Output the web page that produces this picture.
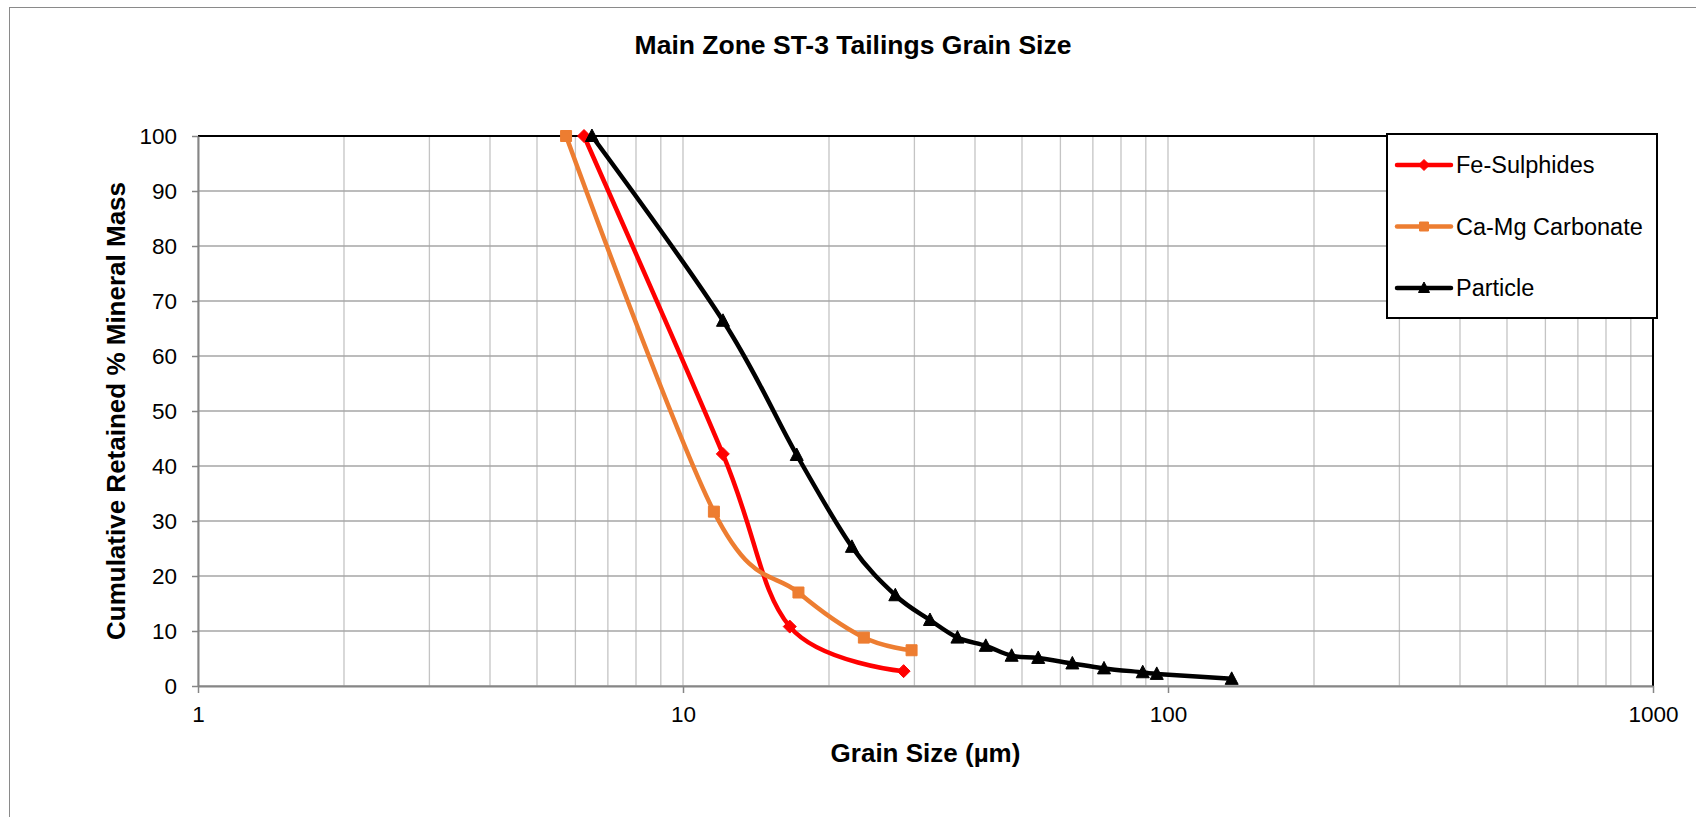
<!DOCTYPE html>
<html>
<head>
<meta charset="utf-8">
<script src="https://cdn.jsdelivr.net/npm/d3@7"></script>
<style>
  body { margin: 0; background: #fff; }
  text { font-family: "Liberation Sans", Arial, sans-serif; }
</style>
</head>
<body>
<div id="chart"></div>
<script>
const width = 1696;
const height = 817;
const margin = { top: 136, right: 43, bottom: 131, left: 198 };

// values
const seriesNames = ["Fe-Sulphides", "Ca-Mg Carbonate", "Particle"];
const seriesColors = ["#ff0000", "#ed7d31", "#000000"];

const feSize = [6.25, 12.08, 16.6, 28.5];
const feRetained = [100, 42.2, 10.8, 2.7];

const carbSize = [5.74, 11.58, 17.3, 23.6, 29.6];
const carbRetained = [100, 31.7, 17.0, 8.8, 6.5];

const particleSize = [
  6.49, 12.09, 17.16, 22.3, 27.4, 32.3, 36.8, 42.1, 47.6, 54.0, 63.5, 73.8,
  88.7, 94.8, 135.3,
];
const particleRetained = [
  100, 66.4, 42.0, 25.3, 16.5, 12.0, 8.8, 7.3, 5.5, 5.1, 4.1, 3.2, 2.5, 2.2,
  1.3,
];

const xTicks = [1, 10, 100, 1000];
const yTicks = [0, 10, 20, 30, 40, 50, 60, 70, 80, 90, 100];

const zip = (xs, ys) => xs.map((x, i) => ({ x: x, y: ys[i] }));
const series = [
  zip(feSize, feRetained),
  zip(carbSize, carbRetained),
  zip(particleSize, particleRetained),
];

// marker shapes: diamond, square, triangle
const markerPath = (i, s) => {
  if (i === 0) {
    return `M0,${-s}L${s},0L0,${s}L${-s},0Z`;
  } else if (i === 1) {
    return `M${-s + 0.5},${-s + 0.5}h${2 * s - 1}v${2 * s - 1}h${-2 * s + 1}Z`;
  }
  return `M0,${-s - 1}L${s + 0.5},${s - 0.5}L${-s - 0.5},${s - 0.5}Z`;
};

const main = () => {
  const xScale = d3
    .scaleLog()
    .domain([1, 1000])
    .range([margin.left, width - margin.right]);

  const yScale = d3
    .scaleLinear()
    .domain([0, 100])
    .range([height - margin.bottom, margin.top]);

  const svg = d3
    .select("#chart")
    .append("svg")
    .attr("width", width)
    .attr("height", height)
    .style("display", "block");

  svg
    .append("rect")
    .attr("x", 9.5)
    .attr("y", 7.5)
    .attr("width", width)
    .attr("height", height)
    .attr("fill", "#fff")
    .attr("stroke", "#8a8a8a")
    .attr("stroke-width", 1);

  // vertical grid (major + minor)
  svg
    .append("g")
    .selectAll("line")
    .data(xScale.ticks())
    .join("line")
    .attr("x1", (d) => xScale(d))
    .attr("x2", (d) => xScale(d))
    .attr("y1", margin.top)
    .attr("y2", height - margin.bottom)
    .attr("stroke", "#c4c4c4")
    .attr("stroke-width", 1.3);

  // horizontal grid
  svg
    .append("g")
    .selectAll("line")
    .data(yTicks)
    .join("line")
    .attr("x1", margin.left)
    .attr("x2", width - margin.right)
    .attr("y1", (d) => yScale(d))
    .attr("y2", (d) => yScale(d))
    .attr("stroke", "#a6a6a6")
    .attr("stroke-width", 1.6);

  // plot area border (top, right)
  svg
    .append("path")
    .attr(
      "d",
      `M${margin.left},${margin.top}H${width - margin.right}V${height - margin.bottom}`
    )
    .attr("fill", "none")
    .attr("stroke", "#000")
    .attr("stroke-width", 2);

  const xAxis = svg
    .append("g")
    .attr("transform", `translate(0, ${height - margin.bottom})`)
    .call(
      d3
        .axisBottom(xScale)
        .tickValues(xTicks)
        .tickFormat(d3.format("d"))
        .tickSizeInner(7)
        .tickSizeOuter(0)
        .tickPadding(13)
    );

  const yAxis = svg
    .append("g")
    .attr("transform", `translate(${margin.left}, 0)`)
    .call(
      d3
        .axisLeft(yScale)
        .tickValues(yTicks)
        .tickSizeInner(6)
        .tickSizeOuter(0)
        .tickPadding(15)
    );

  [xAxis, yAxis].forEach((a) => {
    a.select(".domain").attr("stroke", "#868686").attr("stroke-width", 2);
    a.selectAll(".tick line").attr("stroke", "#868686").attr("stroke-width", 1.5);
    a.selectAll(".tick text")
      .attr("fill", "#000")
      .style("font-size", "22.5px")
      .style("font-family", '"Liberation Sans", Arial, sans-serif');
  });

  // series
  const line = d3
    .line()
    .x((d) => xScale(d.x))
    .y((d) => yScale(d.y))
    .curve(d3.curveCardinal.tension(0));

  const seriesGroup = svg.append("g");
  series.forEach((pts, i) => {
    seriesGroup
      .append("path")
      .datum(pts)
      .attr("d", line)
      .attr("fill", "none")
      .attr("stroke", seriesColors[i])
      .attr("stroke-width", 4.5)
      .attr("stroke-linejoin", "round")
      .attr("stroke-linecap", "round");

    seriesGroup
      .append("g")
      .selectAll("path")
      .data(pts)
      .join("path")
      .attr("transform", (d) => `translate(${xScale(d.x)}, ${yScale(d.y)})`)
      .attr("d", markerPath(i, i === 0 ? 6.5 : 6))
      .attr("fill", seriesColors[i])
      .attr("stroke", seriesColors[i])
      .attr("stroke-width", 1)
      .attr("stroke-linejoin", "round");
  });

  // legend
  const legendGroup = svg.append("g").attr("transform", "translate(1387, 134)");

  legendGroup
    .append("rect")
    .attr("width", 270)
    .attr("height", 184)
    .attr("fill", "#fff")
    .attr("stroke", "#000")
    .attr("stroke-width", 2);

  const legendItems = legendGroup
    .selectAll("g")
    .data(seriesNames)
    .join("g")
    .attr("transform", (d, i) => `translate(0, ${31 + i * 61.5})`);

  legendItems
    .append("line")
    .attr("x1", 10)
    .attr("x2", 64)
    .attr("stroke", (d, i) => seriesColors[i])
    .attr("stroke-width", 4.5)
    .attr("stroke-linecap", "round");

  legendItems
    .append("path")
    .attr("transform", "translate(37, 0)")
    .attr("d", (d, i) => markerPath(i, i === 0 ? 5.5 : 5))
    .attr("fill", (d, i) => seriesColors[i])
    .attr("stroke", (d, i) => seriesColors[i]);

  legendItems
    .append("text")
    .attr("x", 69)
    .attr("dy", "0.36em")
    .style("font-size", "23.5px")
    .text((d) => d);

  // titles
  svg
    .append("text")
    .attr("x", 853)
    .attr("y", 54)
    .attr("text-anchor", "middle")
    .style("font-size", "26.5px")
    .style("font-weight", "bold")
    .text("Main Zone ST-3 Tailings Grain Size");

  svg
    .append("text")
    .attr("x", (margin.left + width - margin.right) / 2)
    .attr("y", 762)
    .attr("text-anchor", "middle")
    .style("font-size", "26px")
    .style("font-weight", "bold")
    .text("Grain Size (µm)");

  svg
    .append("text")
    .attr("transform", "rotate(-90)")
    .attr("x", -(margin.top + (height - margin.top - margin.bottom) / 2))
    .attr("y", 125)
    .attr("text-anchor", "middle")
    .style("font-size", "26px")
    .style("font-weight", "bold")
    .text("Cumulative Retained % Mineral Mass");
};

main();
</script>
</body>
</html>
